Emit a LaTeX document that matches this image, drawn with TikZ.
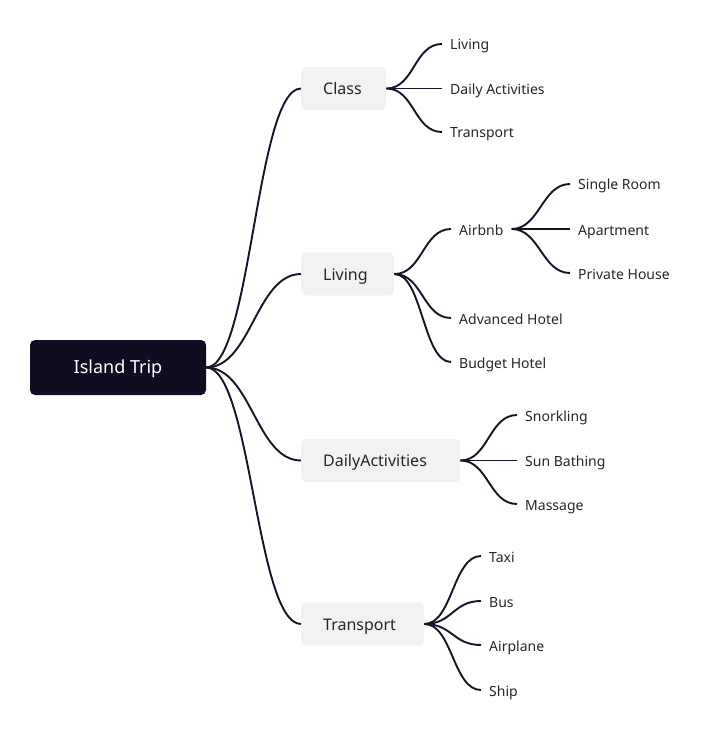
\documentclass[tikz,border=0pt]{standalone}
\usepackage{fontspec}
\setmainfont{Noto Sans}
\definecolor{rootfill}{HTML}{100D22}
\definecolor{branchfill}{HTML}{F2F2F2}
\definecolor{ink}{HTML}{16132A}
\definecolor{txt}{HTML}{26242E}
\begin{document}
\begin{tikzpicture}[x=1pt,y=-1pt,
  rootbox/.style={fill=rootfill, rounded corners=5pt, minimum width=176pt, minimum height=55pt, text=white, font=\fontsize{18}{21}\selectfont, inner sep=0pt, text height=13pt, text depth=2pt},
  branchbox/.style={fill=branchfill, rounded corners=5pt, anchor=west, minimum height=43pt, inner ysep=0pt, inner xsep=22pt, align=left, text=txt, font=\fontsize{16}{19}\selectfont, text height=14pt, text depth=2pt},
  leaf/.style={anchor=west, inner xsep=8pt, inner ysep=1pt, text=txt, font=\fontsize{14}{17}\selectfont, text height=14pt, text depth=2pt},
  link/.style={draw=ink, line width=1.9pt},
]
\useasboundingbox (0,0) rectangle (710,735);
% root
\node[rootbox] (root) at (118,367.5) {Island Trip};
% branches
\node[branchbox, text width=41pt] (class) at (301,88.5) {Class};
\node[branchbox, text width=49pt] (living) at (301,274) {Living};
\node[branchbox, text width=115pt] (daily) at (301,460.5) {DailyActivities};
\node[branchbox, text width=79pt] (trans) at (301,624) {Transport};
% class leaves
\node[leaf] (c1) at (442,44) {Living};
\node[leaf] (c2) at (442,88.5) {Daily Activities};
\node[leaf] (c3) at (442,132) {Transport};
% living leaves
\node[leaf] (l1) at (451,229) {Airbnb};
\node[leaf] (l2) at (451,318) {Advanced Hotel};
\node[leaf] (l3) at (451,362) {Budget Hotel};
% airbnb leaves
\node[leaf] (a1) at (570,184) {Single Room};
\node[leaf] (a2) at (570,229) {Apartment};
\node[leaf] (a3) at (570,273) {Private House};
% daily leaves
\node[leaf] (d1) at (517,415) {Snorkling};
\node[leaf] (d2) at (517,460.5) {Sun Bathing};
\node[leaf] (d3) at (517,504) {Massage};
% transport leaves
\node[leaf] (t1) at (481,556) {Taxi};
\node[leaf] (t2) at (481,601) {Bus};
\node[leaf] (t3) at (481,645) {Airplane};
\node[leaf] (t4) at (481,690) {Ship};
% root links
\foreach \b in {class,living,daily,trans}
  \draw[link] (root.east) .. controls +(45,0) and +(-45,0) .. (\b.west);
% branch links
\foreach \b in {c1,c2,c3}
  \draw[link] (class.east) .. controls +(28,0) and +(-28,0) .. (\b.west);
\foreach \b in {l1,l2,l3}
  \draw[link] (living.east) .. controls +(28,0) and +(-28,0) .. (\b.west);
\foreach \b in {a1,a2,a3}
  \draw[link] (l1.east) .. controls +(28,0) and +(-28,0) .. (\b.west);
\foreach \b in {d1,d2,d3}
  \draw[link] (daily.east) .. controls +(28,0) and +(-28,0) .. (\b.west);
\foreach \b in {t1,t2,t3,t4}
  \draw[link] (trans.east) .. controls +(28,0) and +(-28,0) .. (\b.west);
\end{tikzpicture}
\end{document}
